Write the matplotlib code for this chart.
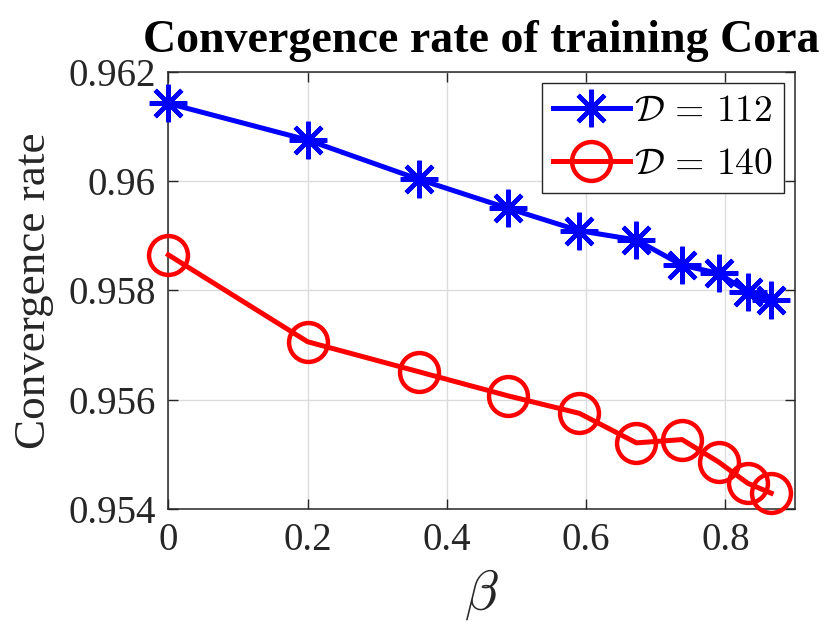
import matplotlib
matplotlib.use('Agg')
import matplotlib.pyplot as plt

# beta values shared by both curves
beta = [0, 0.2, 0.36, 0.488, 0.5904, 0.6723, 0.7379, 0.7903, 0.8322, 0.8658]
rate_112 = [0.96142, 0.96075, 0.96003, 0.95950, 0.95909, 0.95892, 0.95846, 0.95831, 0.95797, 0.95782]
rate_140 = [0.95865, 0.95706, 0.95651, 0.95607, 0.95575, 0.95521, 0.95527, 0.95486, 0.95447, 0.95429]

x_ticks = [0, 0.2, 0.4, 0.6, 0.8]
x_tick_labels = ['0', '0.2', '0.4', '0.6', '0.8']
y_ticks = [0.954, 0.956, 0.958, 0.96, 0.962]
y_tick_labels = ['0.954', '0.956', '0.958', '0.96', '0.962']

plt.rcParams['font.family'] = ['Liberation Serif', 'DejaVu Serif']
plt.rcParams['mathtext.fontset'] = 'cm'

fig = plt.figure(figsize=(8.31, 6.32), dpi=100)
ax = fig.add_axes([0.2025, 0.1946, 0.7542, 0.692])

ax.plot(beta, rate_112, color='#0000ff', linewidth=3.6, marker=(8, 2, 0),
        markersize=27, markeredgewidth=3.2, label=r'$\mathcal{D}\,=\,112$',
        clip_on=False, zorder=3)
ax.plot(beta, rate_140, color='#ff0000', linewidth=3.6, marker='o',
        markersize=28, markeredgewidth=3.2, markerfacecolor='none',
        label=r'$\mathcal{D}\,=\,140$', clip_on=False, zorder=3)

ax.set_xlim(0, 0.9)
ax.set_ylim(0.954, 0.962)
ax.set_xticks(x_ticks)
ax.set_xticklabels(x_tick_labels)
ax.set_yticks(y_ticks)
ax.set_yticklabels(y_tick_labels)

ax.grid(True, color='#dcdcdc', linewidth=1.0)
ax.set_axisbelow(True)
ax.tick_params(direction='in', length=7, width=1, colors='#262626',
               labelsize=28, top=True, right=True, pad=9)
for s in ax.spines.values():
    s.set_color('#262626')
    s.set_linewidth(1.1)

ax.set_xlabel(r'$\beta$', fontsize=40, color='#262626', labelpad=6)
ax.set_ylabel('Convergence rate', fontsize=32.5, color='#262626', labelpad=10)
ax.set_title('Convergence rate of training Cora', fontsize=33,
             fontweight='bold', pad=14)

leg = ax.legend(loc='upper right', fontsize=27, fancybox=False, framealpha=1,
                edgecolor='#262626', borderpad=0.3, handlelength=2.05,
                handletextpad=0.1, labelspacing=0.5, borderaxespad=0.3)
leg.get_frame().set_linewidth(1.0)

fig.savefig('out.png', dpi=100)
plt.close(fig)
